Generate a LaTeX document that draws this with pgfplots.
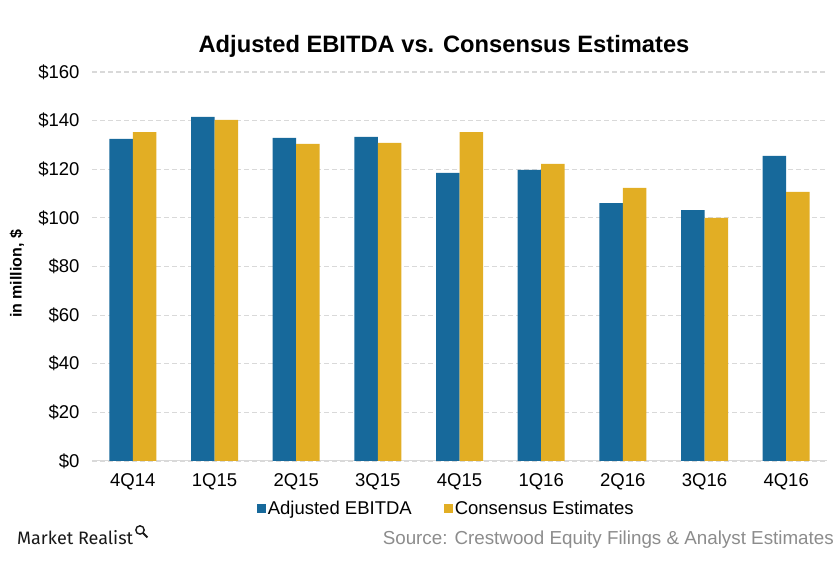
\documentclass[border=0pt]{standalone}
\usepackage{fontspec}
\setmainfont{Liberation Sans}
\newfontfamily\logofont{Fira Sans}
\usepackage{pgfplots}
\pgfplotsset{compat=1.18}
\definecolor{ebitda}{HTML}{17699B}
\definecolor{consensus}{HTML}{E2AE24}
\definecolor{gridgray}{HTML}{D9D9D9}
\definecolor{srcgray}{HTML}{8C8C8C}
\begin{document}
\begin{tikzpicture}
\useasboundingbox (0,0) rectangle (840pt,580pt);
\begin{axis}[
  at={(92pt,119pt)}, anchor=south west,
  scale only axis, width=735pt, height=389pt,
  ybar=0pt, bar width=23.5pt,
  xmin=-0.5, xmax=8.5, ymin=0, ymax=160,
  xtick={0,...,8},
  xticklabels={4Q14,1Q15,2Q15,3Q15,4Q15,1Q16,2Q16,3Q16,4Q16},
  ytick={0,20,...,160},
  yticklabel={\$\pgfmathprintnumber{\tick}},
  /pgf/number format/assume math mode=true,
  major tick length=0pt,
  separate axis lines,
  axis x line*=bottom, axis y line*=left,
  x axis line style={gridgray, line width=1pt, -},
  y axis line style={draw=none},
  ymajorgrids,
  major grid style={gridgray, line width=1.2pt, dash pattern=on 5pt off 3pt},
  tick label style={font=\fontsize{18.5}{22}\selectfont},
  yticklabel style={xshift=-9pt},
  xticklabel style={yshift=-9pt},
  legend style={at={(0.482,-0.123)}, anchor=center, draw=none,
    legend columns=2, font=\fontsize{18.5}{22}\selectfont,
    /tikz/every even column/.append style={column sep=30pt},
    nodes={inner xsep=2pt}},
]
\addplot[fill=ebitda, draw=none,
  legend image code/.code={\fill[ebitda] (0pt,-4.5pt) rectangle (9pt,4.5pt);}]
  coordinates {(0,132.5) (1,141.5) (2,132.9) (3,133.3) (4,118.5) (5,119.7) (6,106.1) (7,103.2) (8,125.5)};
\addlegendentry{Adjusted EBITDA}
\addplot[fill=consensus, draw=none,
  legend image code/.code={\fill[consensus] (0pt,-4.5pt) rectangle (9pt,4.5pt);}]
  coordinates {(0,135.3) (1,140.3) (2,130.4) (3,130.8) (4,135.3) (5,122.2) (6,112.3) (7,100.0) (8,110.7)};
\addlegendentry{Consensus Estimates}
\end{axis}
\node[font=\fontsize{23.7}{28}\selectfont\bfseries] at (444pt,534pt) {Adjusted EBITDA vs. Consensus Estimates};
\node[rotate=90, font=\fontsize{16}{19}\selectfont\bfseries] at (17pt,306pt) {in million, \$};
\node[anchor=base west, font=\logofont\fontsize{18}{20}\selectfont, text=black!90, inner sep=0pt] at (17pt,35pt) {Market Realist};
\draw[black!90, line width=1.4pt] (140pt,50pt) circle (4.2pt);
\draw[black!90, line width=2pt] (143.2pt,46.8pt) -- (147.5pt,42.5pt);
\node[anchor=east, font=\fontsize{18.8}{22}\selectfont, text=srcgray, inner sep=0pt] at (834pt,40pt) {Source: Crestwood Equity Filings \& Analyst Estimates};
\end{tikzpicture}
\end{document}
